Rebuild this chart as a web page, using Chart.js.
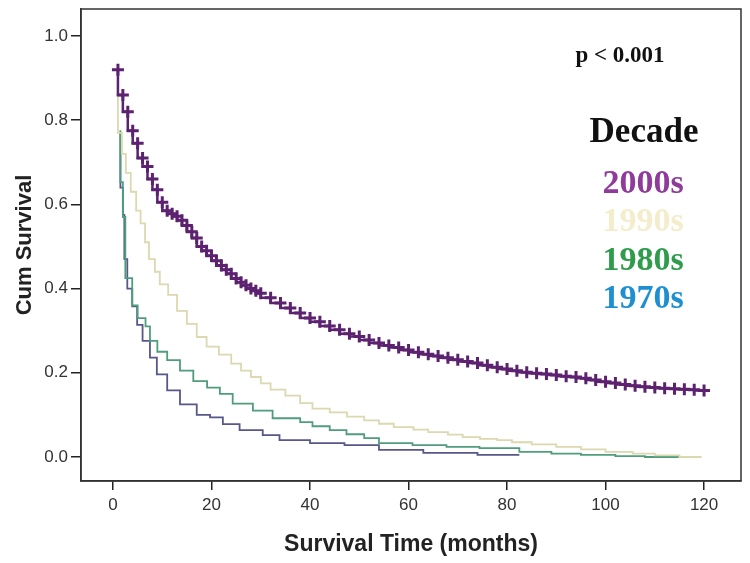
<!DOCTYPE html>
<html>
<head>
<meta charset="utf-8">
<script src="https://cdn.jsdelivr.net/npm/chart.js@4.4.1/dist/chart.umd.min.js"></script>
<style>
  html, body { margin: 0; padding: 0; background: #fff; }
  #chart { display: block; }
</style>
</head>
<body>
<canvas id="chart" width="750" height="563"></canvas>
<script>
const xTicks = [0, 20, 40, 60, 80, 100, 120]
const yTicks = [0, 0.2, 0.4, 0.6, 0.8, 1.0]

const decades = ['2000s', '1990s', '1980s', '1970s']

const t2000s = [1, 2, 3, 4, 5, 6, 7, 8, 9, 10, 11, 12, 13, 14, 15, 16, 17, 18, 19, 20,
  21, 22, 23, 24, 25, 26, 27, 28, 29, 30, 32, 34, 36, 38, 40, 42, 44, 46, 48, 50,
  52, 54, 56, 58, 60, 62, 64, 66, 68, 70, 72, 74, 76, 78, 80, 82, 84, 86, 88, 90,
  92, 94, 96, 98, 100, 102, 104, 106, 108, 110, 112, 114, 116, 118, 120]
const s2000s = [0.92, 0.86, 0.82, 0.775, 0.745, 0.71, 0.69, 0.66, 0.635, 0.605, 0.585, 0.578, 0.572, 0.562, 0.55, 0.535, 0.52, 0.50, 0.49, 0.478,
  0.466, 0.455, 0.445, 0.435, 0.424, 0.415, 0.408, 0.40, 0.395, 0.389, 0.378, 0.366, 0.354, 0.342, 0.33, 0.321, 0.311, 0.302, 0.293, 0.286,
  0.278, 0.271, 0.265, 0.26, 0.254, 0.249, 0.244, 0.24, 0.236, 0.231, 0.227, 0.223, 0.218, 0.213, 0.209, 0.205, 0.201, 0.199, 0.197, 0.195,
  0.192, 0.19, 0.187, 0.183, 0.179, 0.176, 0.172, 0.169, 0.167, 0.165, 0.163, 0.162, 0.161, 0.16, 0.158]

const t1990s = [1, 1.8, 2.6, 3.6, 4.7, 5.6, 6.5, 7.3, 8.5, 9.5, 11.2, 13, 15, 17, 19, 21.5, 24, 26, 28, 30,
  32, 35, 38, 40.5, 44, 47.5, 51, 54, 57, 61, 64, 68, 71, 74.5, 78, 81, 85, 90, 95, 100, 105.5, 110, 115, 119.5]
const s1990s = [0.855, 0.77, 0.72, 0.675, 0.63, 0.585, 0.555, 0.51, 0.47, 0.44, 0.41, 0.385, 0.347, 0.316, 0.285, 0.262, 0.243, 0.222, 0.205, 0.19,
  0.175, 0.16, 0.146, 0.128, 0.115, 0.106, 0.096, 0.087, 0.079, 0.071, 0.065, 0.059, 0.053, 0.047, 0.043, 0.04, 0.035, 0.03, 0.024, 0.018, 0.012, 0.008, 0.004, 0.0]

const t1980s = [1.5, 2, 2.5, 3.9, 5, 6.6, 7.5, 9, 11, 13.6, 16.3, 19.1, 21.7, 24.3, 28.4, 32.4, 38, 40.5, 44, 47.4,
  51, 54, 60.8, 67.7, 74.4, 82.5, 89, 95, 102, 108, 115]
const s1980s = [0.776, 0.653, 0.57, 0.425, 0.36, 0.33, 0.31, 0.276, 0.25, 0.23, 0.205, 0.18, 0.165, 0.15, 0.127, 0.11, 0.092, 0.083, 0.073, 0.064,
  0.054, 0.045, 0.033, 0.028, 0.024, 0.021, 0.012, 0.008, 0.005, 0.002, 0.0]

const t1970s = [1.5, 2, 2.3, 2.9, 3.9, 4.9, 6, 7.5, 8.9, 11, 13.6, 17, 19.7, 22.3, 25.7, 30.4, 33.8, 40, 47, 54,
  63, 74, 82.5]
const s1970s = [0.77, 0.64, 0.575, 0.47, 0.40, 0.358, 0.314, 0.276, 0.236, 0.196, 0.158, 0.125, 0.10, 0.094, 0.078, 0.064, 0.052, 0.04, 0.033, 0.028,
  0.017, 0.01, 0.005]

const lineColors = ['#5c2270', '#dcd8b0', '#4f9d7c', '#57578a']
const legendColors = ['#8e3b9a', '#f3edcb', '#2f9c4c', '#1e8fd0']

const toPoints = (xs, ys) => xs.map((x, i) => ({ x: x, y: ys[i] }))
const seriesData = [
  toPoints(t2000s, s2000s),
  toPoints(t1990s, s1990s),
  toPoints(t1980s, s1980s),
  toPoints(t1970s, s1970s)
]

// frame around the plot plus the p value and the coloured decade list
const annotations = {
  id: 'annotations',
  afterDraw(chart) {
    const ctx = chart.ctx
    const a = chart.chartArea
    ctx.save()
    ctx.strokeStyle = '#333'
    ctx.lineWidth = 1.5
    ctx.strokeRect(a.left, a.top, a.right - a.left, a.bottom - a.top)

    ctx.textAlign = 'center'
    ctx.textBaseline = 'alphabetic'
    ctx.fillStyle = '#111'
    ctx.font = 'bold 23px "Liberation Serif", serif'
    ctx.fillText('p < 0.001', 620, 62)
    ctx.font = 'bold 35px "Liberation Serif", serif'
    ctx.fillText('Decade', 644, 142)

    ctx.font = 'bold 34px "Liberation Serif", serif'
    const rows = [193, 231, 270, 308]
    decades.forEach((d, i) => {
      ctx.fillStyle = legendColors[i]
      ctx.fillText(d, 643, rows[i])
    })
    ctx.restore()
  }
}

const context = document.getElementById('chart').getContext('2d')

const chart = new Chart(context, {
  type: 'line',
  data: {
    datasets: decades.map((d, i) => ({
      label: d,
      data: seriesData[i],
      stepped: 'after',
      borderColor: lineColors[i],
      backgroundColor: lineColors[i],
      borderWidth: i === 0 ? 2.5 : 1.8,
      pointStyle: 'cross',
      pointRadius: i === 0 ? 6 : 0,
      pointBorderWidth: 3,
      pointBorderColor: lineColors[i],
      fill: false
    }))
  },
  plugins: [annotations],
  options: {
    responsive: false,
    animation: false,
    layout: { padding: { top: 3, right: 8, left: 0, bottom: 0 } },
    plugins: {
      legend: { display: false },
      tooltip: { enabled: false }
    },
    scales: {
      x: {
        type: 'linear',
        min: -6.5,
        max: 127.5,
        afterBuildTicks: scale => { scale.ticks = xTicks.map(v => ({ value: v })) },
        afterFit: scale => { scale.height = 82; scale.paddingLeft = 0; scale.paddingRight = 0 },
        grid: { drawOnChartArea: false, drawTicks: true, tickLength: 9, color: '#222', lineWidth: 1.5 },
        border: { display: true, color: '#333', width: 1.5 },
        ticks: { color: '#333', font: { family: '"Liberation Sans", Arial, sans-serif', size: 17 }, padding: 5, maxRotation: 0 },
        title: {
          display: true,
          text: 'Survival Time (months)',
          color: '#222',
          font: { family: '"Liberation Sans", Arial, sans-serif', size: 23, weight: 'bold' },
          padding: { bottom: 5 }
        }
      },
      y: {
        type: 'linear',
        min: -0.057,
        max: 1.064,
        afterBuildTicks: scale => { scale.ticks = yTicks.map(v => ({ value: v })) },
        afterFit: scale => { scale.width = 81; scale.paddingTop = 0; scale.paddingBottom = 0 },
        grid: { drawOnChartArea: false, drawTicks: true, tickLength: 10, color: '#222', lineWidth: 1.5 },
        border: { display: true, color: '#333', width: 1.5 },
        ticks: {
          color: '#333',
          font: { family: '"Liberation Sans", Arial, sans-serif', size: 17 },
          padding: 3,
          callback: v => v.toFixed(1)
        },
        title: {
          display: true,
          text: 'Cum Survival',
          color: '#222',
          font: { family: '"Liberation Sans", Arial, sans-serif', size: 22, weight: 'bold' },
          padding: { top: 12 }
        }
      }
    }
  }
})
</script>
</body>
</html>
